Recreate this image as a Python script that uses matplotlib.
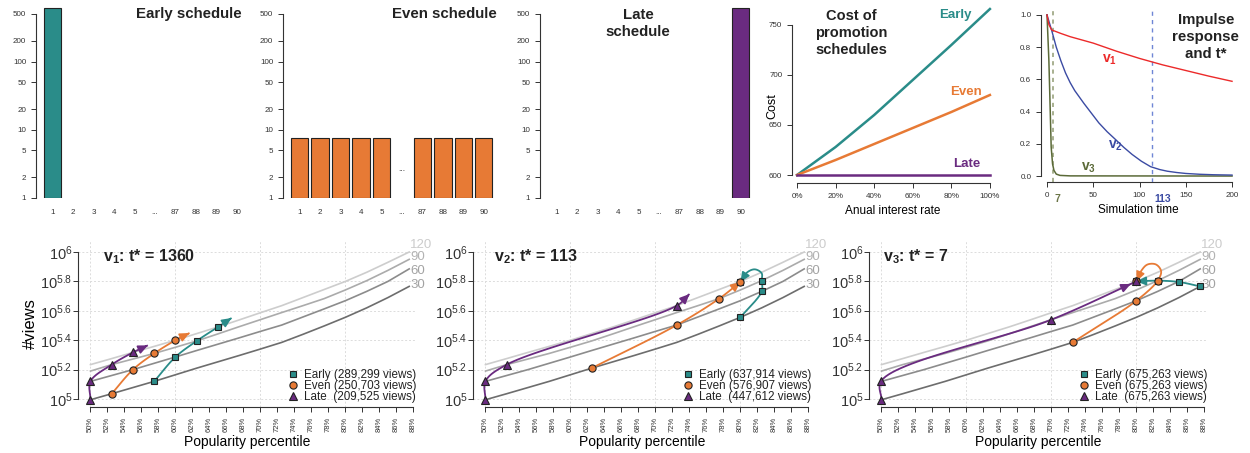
import numpy as np
import matplotlib
matplotlib.use("Agg")
import matplotlib.pyplot as plt
from matplotlib.lines import Line2D
from matplotlib.transforms import blended_transform_factory

plt.rcParams.update({
    "font.family": "Liberation Sans",
    "mathtext.fontset": "custom",
    "mathtext.rm": "Liberation Sans",
    "mathtext.bf": "Liberation Sans:bold",
    "mathtext.it": "Liberation Sans:italic",
    "mathtext.default": "regular",
    "axes.edgecolor": "#333333",
    "xtick.color": "#333333",
    "ytick.color": "#333333",
    "text.color": "#222222",
})

# ---------------- data ----------------
TEAL, ORANGE, PURPLE = "#2a8c89", "#e77a35", "#6a2b80"

slot_labels = ["1", "2", "3", "4", "5", "...", "87", "88", "89", "90"]
early_budget = [600, 0, 0, 0, 0, np.nan, 0, 0, 0, 0]
even_budget = [6.67, 6.67, 6.67, 6.67, 6.67, np.nan, 6.67, 6.67, 6.67, 6.67]
late_budget = [0, 0, 0, 0, 0, np.nan, 0, 0, 0, 600]

interest = [0, 0.2, 0.4, 0.6, 0.8, 1.0]
cost_early = [600, 628, 660, 695, 730, 766]
cost_even = [600, 615, 631, 647, 663, 680]
cost_late = [600, 600, 600, 600, 600, 600]

t_v1 = [0, 2, 5, 15, 25, 50, 75, 100, 125, 150, 175, 200]
v1 = [1.0, 0.94, 0.907, 0.885, 0.865, 0.825, 0.775, 0.73, 0.69, 0.655, 0.62, 0.588]
t_v2 = [0, 5, 10, 15, 20, 25, 30, 40, 48, 56, 65, 74, 83, 92, 102, 112, 122, 130, 140, 150, 165, 180, 200]
v2 = [1.0, 0.905, 0.80, 0.715, 0.64, 0.58, 0.53, 0.45, 0.39, 0.33, 0.275, 0.227, 0.178, 0.134, 0.092,
      0.058, 0.04, 0.03, 0.022, 0.016, 0.011, 0.008, 0.006]
t_v3 = [0, 2, 3.5, 4.5, 6, 7.5, 10, 14, 25, 200]
v3 = [1.0, 0.72, 0.40, 0.18, 0.075, 0.035, 0.012, 0.004, 0.001, 0.0]
tstar_v3, tstar_v2 = 7, 113

# log10(#views) per popularity percentile after 30/60/90/120 days
pct = [50, 52.5, 55, 57.5, 60, 62.5, 65, 67.5, 70, 72.5, 75, 77.5, 80, 82.5, 85, 87.5]
views_30 = [4.995, 5.036, 5.078, 5.12, 5.165, 5.21, 5.253, 5.296, 5.34, 5.385, 5.44, 5.497, 5.556, 5.62, 5.69, 5.766]
views_60 = [5.12, 5.16, 5.20, 5.243, 5.286, 5.33, 5.373, 5.416, 5.46, 5.503, 5.558, 5.613, 5.669, 5.732, 5.80, 5.885]
views_90 = [5.19, 5.234, 5.272, 5.31, 5.352, 5.395, 5.443, 5.492, 5.54, 5.588, 5.635, 5.683, 5.742, 5.805, 5.875, 5.95]
views_120 = [5.234, 5.275, 5.317, 5.358, 5.40, 5.445, 5.49, 5.538, 5.587, 5.635, 5.69, 5.745, 5.80, 5.862, 5.93, 6.0]
curve_days = [30, 60, 90, 120]
curve_label_y = [5.776, 5.871, 5.966, 6.048]

# trajectories: (percentile, log10 views) at days 30..120, bend points, arrow tip
traj_v1 = {
    "Early": {"pts": [(57.5, 5.12), (60, 5.286), (62.5, 5.395), (65, 5.49)], "via": [], "tip": (66.6, 5.551)},
    "Even": {"pts": [(52.5, 5.036), (55, 5.20), (57.5, 5.31), (60, 5.40)], "via": [], "tip": (61.65, 5.449)},
    "Late": {"pts": [(50, 4.995), (50, 5.12), (52.5, 5.234), (55, 5.317)], "via": [], "tip": (56.75, 5.365)},
}
traj_v2 = {
    "Early": {"pts": [(80, 5.556), (82.5, 5.732), (82.5, 5.805), (80, 5.796)],
              "via": [(82.5, 5.855), (81.7, 5.882), (80.8, 5.862)], "tip": None},
    "Even": {"pts": [(62.5, 5.21), (72.5, 5.503), (77.5, 5.683), (80, 5.796)], "via": [], "tip": None},
    "Late": {"pts": [(50, 4.995), (50, 5.12), (52.5, 5.234), (72.5, 5.635)], "via": [], "tip": (74.0, 5.714)},
}
traj_v3 = {
    "Early": {"pts": [(87.5, 5.766), (85, 5.796), (82.5, 5.805), (80, 5.80)], "via": [], "tip": None},
    "Even": {"pts": [(72.5, 5.385), (80, 5.669), (82.5, 5.805), (80, 5.80)],
             "via": [(82.9, 5.87), (82.3, 5.915), (81.3, 5.915), (80.6, 5.875)], "tip": None},
    "Late": {"pts": [(50, 4.995), (50, 5.125), (70, 5.54), (80, 5.80)], "via": [], "tip": None},
}
panel_titles = [r"$\mathbf{v_1}$: t* = 1360", r"$\mathbf{v_2}$: t* = 113", r"$\mathbf{v_3}$: t* = 7"]
legend_views = [["289,299", "250,703", "209,525"],
                ["637,914", "576,907", "447,612"],
                ["675,263", "675,263", "675,263"]]

# ---------------- layout helpers ----------------
W, H = 1250, 453
fig = plt.figure(figsize=(W / 100, H / 100), dpi=100)


def axpx(l, t, r, b):
    return fig.add_axes([l / W, 1 - b / H, (r - l) / W, (b - t) / H])


def r_style(ax, left=True, bottom=True):
    for s in ["top", "right"]:
        ax.spines[s].set_visible(False)
    ax.spines["left"].set_visible(left)
    ax.spines["bottom"].set_visible(bottom)
    ax.spines["left"].set_linewidth(0.8)
    ax.spines["bottom"].set_linewidth(0.8)
    ax.tick_params(length=3.5, width=0.7)


# ---------------- top: schedule bars ----------------
sched = [("Early schedule", early_budget, TEAL, 36),
         ("Even schedule", even_budget, ORANGE, 283),
         ("Late\nschedule", late_budget, PURPLE, 540)]
for title, budget, col, left in sched:
    ax = axpx(left, 7, left + 211, 198)
    r_style(ax, bottom=False)
    xs = np.arange(len(slot_labels))
    vals = np.array(budget, dtype=float)
    keep = vals > 0
    ax.bar(xs[keep], vals[keep], width=0.85, bottom=1, color=col, edgecolor="#222222", linewidth=0.8)
    ax.set_yscale("log")
    ax.set_ylim(1, 630)
    ax.set_xlim(-0.805, 9.5)
    ax.spines["left"].set_bounds(1, 500)
    ax.set_yticks([1, 2, 5, 10, 20, 50, 100, 200, 500])
    ax.set_yticklabels(["1", "2", "5", "10", "20", "50", "100", "200", "500"])
    ax.yaxis.set_minor_locator(plt.NullLocator())
    ax.set_xticks(xs)
    ax.set_xticklabels(slot_labels)
    ax.tick_params(axis="x", length=0, pad=8)
    ax.tick_params(labelsize=5.8)
    if title.startswith("Late"):
        ax.text(0.464, 0.915, title, transform=ax.transAxes, ha="center", va="center",
                fontsize=10.8, fontweight="bold", linespacing=1.3)
    elif title.startswith("Even"):
        ax.text(1.015, 0.963, title, transform=ax.transAxes, ha="right", va="center",
                fontsize=10.8, fontweight="bold")
        ax.text(5, 2.6, "...", ha="center", va="center", fontsize=6)
    else:
        ax.text(0.976, 0.963, title, transform=ax.transAxes, ha="right", va="center",
                fontsize=10.8, fontweight="bold")

# ---------------- top: cost ----------------
ax = axpx(792, 3, 993, 183)
r_style(ax)
ax.plot(interest, cost_early, color=TEAL, lw=1.8)
ax.plot(interest, cost_even, color=ORANGE, lw=1.8)
ax.plot(interest, cost_late, color=PURPLE, lw=1.8)
ax.set_xlim(-0.026, 1.016)
ax.set_ylim(592, 772)
ax.spines["left"].set_bounds(600, 750)
ax.spines["bottom"].set_bounds(0, 1)
ax.set_yticks([600, 650, 700, 750])
ax.set_xticks(interest)
ax.set_xticklabels(["0%", "20%", "40%", "60%", "80%", "100%"])
ax.tick_params(labelsize=5.8)
ax.set_ylabel("Cost", fontsize=9)
ax.yaxis.set_label_coords(-0.068, 0.43)
ax.set_xlabel("Anual interest rate", fontsize=8.5, labelpad=4)
ax.text(0.82, 760, "Early", color=TEAL, fontsize=9.5, fontweight="bold", ha="center", va="center")
ax.text(0.875, 683, "Even", color=ORANGE, fontsize=9.5, fontweight="bold", ha="center", va="center")
ax.text(0.88, 611, "Late", color=PURPLE, fontsize=9.5, fontweight="bold", ha="center", va="center")
ax.text(0.294, 0.833, "Cost of\npromotion\nschedules", transform=ax.transAxes, ha="center",
        va="center", fontsize=10.5, fontweight="bold", linespacing=1.3)

# ---------------- top: impulse response ----------------
RED, BLUE, OLIVE = "#ec2a2a", "#3b4ba3", "#5b6a38"
ax = axpx(1041, 8, 1235, 182)
r_style(ax)
ax.axvline(tstar_v3, color="#9aa37e", lw=1.2, ls=(0, (2.5, 2.5)))
ax.axvline(tstar_v2, color="#6f86d6", lw=1.0, ls=(0, (3, 3)))
ax.plot(t_v3, v3, color=OLIVE, lw=1.1)
ax.plot(t_v2, v2, color=BLUE, lw=1.0)
ax.plot(t_v1, v1, color=RED, lw=1.0)
ax.set_xlim(-6.5, 203.2)
ax.set_ylim(-0.037, 1.043)
ax.spines["left"].set_bounds(0, 1)
ax.spines["bottom"].set_bounds(0, 200)
ax.set_yticks([0, 0.2, 0.4, 0.6, 0.8, 1.0])
ax.set_yticklabels(["0.0", "0.2", "0.4", "0.6", "0.8", "1.0"])
ax.set_xticks([0, 50, 100, 150, 200])
ax.tick_params(labelsize=5.8)
ax.set_xlabel("Simulation time", fontsize=8.5, labelpad=4)
tr = blended_transform_factory(ax.transData, ax.transAxes)
ax.text(tstar_v3 + 4, -0.1, str(tstar_v3), transform=tr, color="#6b7548", fontsize=7.5,
        fontweight="bold", ha="center", va="center")
ax.text(tstar_v2 + 12, -0.1, str(tstar_v2), transform=tr, color=BLUE, fontsize=7.5,
        fontweight="bold", ha="center", va="center")
ax.text(68, 0.72, r"$\mathbf{v_1}$", color=RED, fontsize=10, ha="center", va="center")
ax.text(73.5, 0.19, r"$\mathbf{v_2}$", color=BLUE, fontsize=10, ha="center", va="center")
ax.text(45, 0.05, r"$\mathbf{v_3}$", color=OLIVE, fontsize=10, ha="center", va="center")
ax.text(0.85, 0.833, "Impulse\nresponse\nand t*", transform=ax.transAxes, ha="center",
        va="center", fontsize=10.8, fontweight="bold", linespacing=1.3)

# ---------------- bottom: trajectories ----------------
YS = 147 / 8.5  # pixel aspect between log10 unit and percentile


def smooth(pts, n=30):
    P = np.array(pts, dtype=float)
    P[:, 1] *= YS
    P = np.vstack([2 * P[0] - P[1], P, 2 * P[-1] - P[-2]])
    segs = []
    for i in range(1, len(P) - 2):
        p0, p1, p2, p3 = P[i - 1], P[i], P[i + 1], P[i + 2]
        t0 = 0.0
        t1 = t0 + max(np.linalg.norm(p1 - p0), 1e-6) ** 0.5
        t2 = t1 + max(np.linalg.norm(p2 - p1), 1e-6) ** 0.5
        t3 = t2 + max(np.linalg.norm(p3 - p2), 1e-6) ** 0.5
        t = np.linspace(t1, t2, n)[:, None]
        a1 = (t1 - t) / (t1 - t0) * p0 + (t - t0) / (t1 - t0) * p1
        a2 = (t2 - t) / (t2 - t1) * p1 + (t - t1) / (t2 - t1) * p2
        a3 = (t3 - t) / (t3 - t2) * p2 + (t - t2) / (t3 - t2) * p3
        b1 = (t2 - t) / (t2 - t0) * a1 + (t - t0) / (t2 - t0) * a2
        b2 = (t3 - t) / (t3 - t1) * a2 + (t - t1) / (t3 - t1) * a3
        segs.append((t2 - t) / (t2 - t1) * b1 + (t - t1) / (t2 - t1) * b2)
    out = np.vstack(segs)
    out[:, 1] /= YS
    return out


gray_curves = list(zip(curve_days, [views_30, views_60, views_90, views_120],
                       ["#6d6d6d", "#8c8c8c", "#ababab", "#cdcdcd"],
                       ["#a3a3a3", "#a3a3a3", "#b3b3b3", "#cccccc"], curve_label_y))
sched_style = [("Early", TEAL, "s", 5.0), ("Even", ORANGE, "o", 5.2), ("Late", PURPLE, "^", 6.0)]
title_x = [0.074, 0.062, 0.041]

for k, (left, traj) in enumerate(zip([78, 473, 869], [traj_v1, traj_v2, traj_v3])):
    ax = axpx(left, 240, left + 338, 407)
    r_style(ax)
    ax.set_xlim(48.53, 88.3)
    ax.set_ylim(4.9456, 6.0816)
    yt = [5.0, 5.2, 5.4, 5.6, 5.8, 6.0]
    for yv in yt:
        ax.axhline(yv, color="#dcdcdc", lw=0.7, ls=(0, (2, 2)), zorder=0)
    for xv in [50, 60, 70, 80]:
        ax.axvline(xv, color="#dcdcdc", lw=0.7, ls=(0, (2, 2)), zorder=0)
    for days, vals, col, lcol, ly in gray_curves:
        ax.plot(pct, vals, color=col, lw=1.2, zorder=1)
        ax.text(pct[-1] + 0.1, ly, str(days), color=lcol, fontsize=9.5, ha="left",
                va="center", clip_on=False)

    handles = []
    for z, (name, col, mk, ms) in enumerate(sched_style):
        tr_ = traj[name]
        path = tr_["pts"][:3] + tr_["via"] + [tr_["pts"][3]]
        if tr_["tip"] is not None:
            path = path + [tr_["tip"]]
        curve = smooth(path)
        ax.plot(curve[:, 0], curve[:, 1], color=col, lw=1.3, zorder=3 + z, solid_capstyle="butt")
        shrink = 0 if tr_["tip"] is not None else 4.5
        ax.annotate("", xy=tuple(curve[-1]), xytext=tuple(curve[-6]),
                    arrowprops=dict(arrowstyle="-|>,head_length=0.55,head_width=0.25",
                                    color=col, lw=1.3, shrinkA=0, shrinkB=shrink),
                    zorder=3 + z)
        px_, py_ = zip(*tr_["pts"])
        ax.plot(px_, py_, ls="none", marker=mk, ms=ms, mfc=col, mec="#222222", mew=0.8, zorder=7 + z)
        handles.append(Line2D([], [], ls="none", marker=mk, ms=ms, mfc=col, mec="#222222", mew=0.8))

    labels = ["Early (%s views)" % legend_views[k][0],
              "Even (%s views)" % legend_views[k][1],
              "Late  (%s views)" % legend_views[k][2]]
    ax.legend(handles, labels, loc="lower right", bbox_to_anchor=(1.0, 0.025), frameon=False,
              fontsize=8.4, handlelength=0.8, handletextpad=0.5, labelspacing=-0.1,
              borderpad=0, borderaxespad=0)

    ax.spines["left"].set_bounds(5, 6)
    ax.spines["bottom"].set_bounds(50, 88)
    ax.set_yticks(yt)
    ax.set_yticklabels([r"$10^{5}$", r"$10^{5.2}$", r"$10^{5.4}$", r"$10^{5.6}$", r"$10^{5.8}$", r"$10^{6}$"])
    ax.tick_params(axis="y", labelsize=10.5, pad=0.5)
    xt = list(range(50, 89, 2))
    ax.set_xticks(xt)
    ax.set_xticklabels(["%d%%" % p for p in xt], rotation=90, fontsize=5.5)
    ax.set_xlabel("Popularity percentile", fontsize=10, labelpad=2)
    if k == 0:
        ax.set_ylabel("#views", fontsize=12, labelpad=1.5)
    ax.text(title_x[k], 0.898, panel_titles[k], transform=ax.transAxes, ha="left", va="center",
            fontsize=11.5, fontweight="bold")

fig.savefig("out.png", dpi=100)
